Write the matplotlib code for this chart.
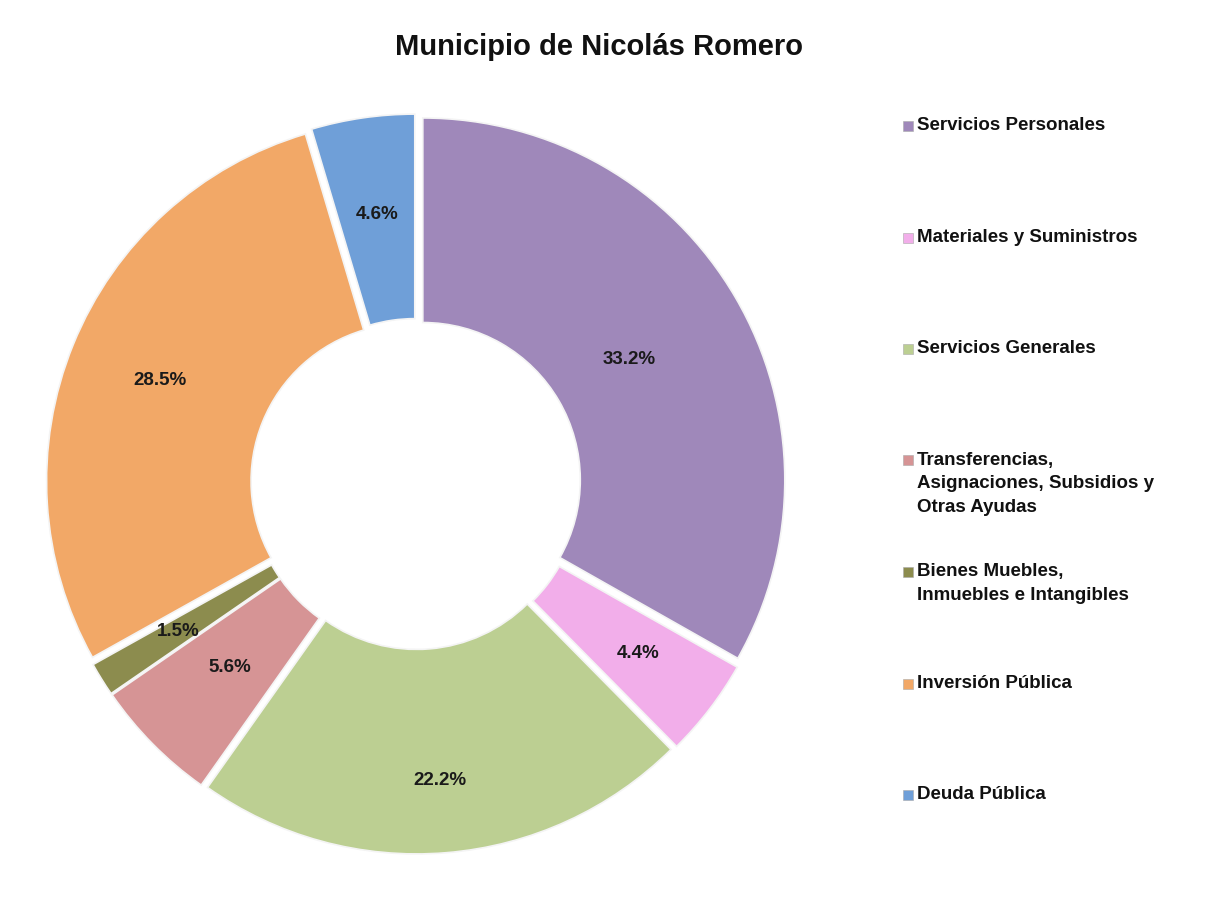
import numpy as np
import matplotlib
matplotlib.use("Agg")
import matplotlib.pyplot as plt
from matplotlib.patches import Rectangle

plt.rcParams['font.family'] = ['Liberation Sans', 'DejaVu Sans']

# datos del grafico
categorias = ['Servicios Personales',
              'Materiales y Suministros',
              'Servicios Generales',
              'Transferencias,\nAsignaciones, Subsidios y\nOtras Ayudas',
              'Bienes Muebles,\nInmuebles e Intangibles',
              'Inversión Pública',
              'Deuda Pública']
porcentajes = [33.2, 4.4, 22.2, 5.6, 1.5, 28.5, 4.6]
colores = ['#9F88BA', '#F2AEEA', '#BCCF92', '#D69495', '#8C8C4E', '#F2A867', '#6F9FD8']

# distancia radial de cada etiqueta (estilo)
dist_etiq = [0.66, 0.75, 0.80, 0.70, 0.75, 0.74, 0.73]

fig = plt.figure(figsize=(12.07, 9.05), dpi=100)
fig.patch.set_facecolor('white')

ax = fig.add_axes([0.0147, 0.0252, 0.6598, 0.880])
wedges, _ = ax.pie(porcentajes, colors=colores, startangle=90, counterclock=False,
                   explode=[0.022] * len(porcentajes),
                   wedgeprops=dict(width=0.565, edgecolor='#F4F4F4', linewidth=1.2))
ax.set_xlim(-1.1, 1.1)
ax.set_ylim(-1.1, 1.1)
ax.set_aspect('equal')
ax.axis('off')

for w, p, r in zip(wedges, porcentajes, dist_etiq):
    ang = np.deg2rad((w.theta1 + w.theta2) / 2)
    cx, cy = w.center
    ax.text(cx + r * np.cos(ang), cy + r * np.sin(ang), '%.1f%%' % p,
            ha='center', va='center', fontsize=13.5, fontweight='bold', color='#1a1a1a')

fig.text(0.496, 0.948, 'Municipio de Nicolás Romero', ha='center', va='center',
         fontsize=21, fontweight='bold', color='#111111')

# leyenda manual
y0 = 905 - 126
paso = 111.5
for i, (nombre, c) in enumerate(zip(categorias, colores)):
    y = y0 - i * paso
    fig.patches.append(Rectangle((903 / 1207, (y - 5) / 905), 10 / 1207, 10 / 905,
                                 transform=fig.transFigure, facecolor=c,
                                 edgecolor='#aaaaaa', linewidth=0.4))
    fig.text(917 / 1207, (y + 9) / 905, nombre, ha='left', va='top',
             fontsize=13.5, fontweight='bold', color='#111111', linespacing=1.5)

plt.savefig('out.png', dpi=100)
